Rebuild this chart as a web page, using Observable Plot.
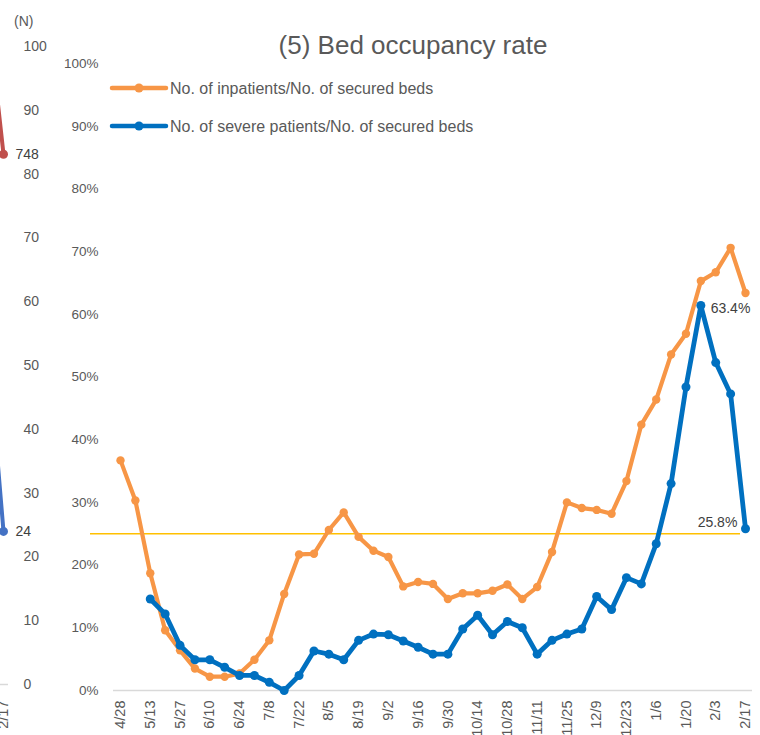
<!DOCTYPE html>
<html>
<head>
<meta charset="utf-8">
<script src="https://cdn.jsdelivr.net/npm/d3@7"></script>
<script src="https://cdn.jsdelivr.net/npm/@observablehq/plot@0.6"></script>
<style>
  body { margin: 0; background: #fff; }
  #wrap { position: relative; width: 760px; height: 735px; overflow: hidden; font-family: "Liberation Sans", Arial, sans-serif; }
  #wrap > * { position: absolute; left: 0; top: 0; }
  #nunit { position: absolute; left: 14px; top: 13px; font-size: 14px; color: #595959; }
</style>
</head>
<body>
<div id="wrap">
  <div id="main"></div>
  <div id="frag"></div>
  <svg id="head" width="760" height="150" style="pointer-events:none">
    <text x="413" y="54" text-anchor="middle" font-size="26" fill="#595959" font-family="Liberation Sans, Arial, sans-serif">(5) Bed occupancy rate</text>
    <g font-family="Liberation Sans, Arial, sans-serif" font-size="16" fill="#595959">
      <line x1="112" x2="166" y1="88" y2="88" stroke="#F79646" stroke-width="4.5" stroke-linecap="round"/>
      <circle cx="139" cy="88" r="4.5" fill="#F79646"/>
      <text x="170" y="93.5">No. of inpatients/No. of secured beds</text>
      <line x1="112" x2="166" y1="126" y2="126" stroke="#0070C0" stroke-width="4.5" stroke-linecap="round"/>
      <circle cx="139" cy="126" r="4.5" fill="#0070C0"/>
      <text x="170" y="131.8">No. of severe patients/No. of secured beds</text>
    </g>
  </svg>
  <div id="nunit">(N)</div>
</div>
<script>
// ---- Data: main chart (5) Bed occupancy rate ----
const dates = ["4/28","5/6","5/13","5/20","5/27","6/3","6/10","6/17","6/24","7/1","7/8","7/15","7/22","7/29","8/5","8/12","8/19","8/26","9/2","9/9","9/16","9/23","9/30","10/7","10/14","10/21","10/28","11/4","11/11","11/18","11/25","12/2","12/9","12/16","12/23","12/30","1/6","1/13","1/20","1/27","2/3","2/10","2/17"];
const tickLabels = ["4/28","5/13","5/27","6/10","6/24","7/8","7/22","8/5","8/19","9/2","9/16","9/30","10/14","10/28","11/11","11/25","12/9","12/23","1/6","1/20","2/3","2/17"];
const inpatientRate = [36.7,30.3,18.7,9.6,6.4,3.5,2.2,2.2,2.7,4.9,8.0,15.4,21.7,21.8,25.6,28.4,24.5,22.3,21.3,16.6,17.3,17.0,14.6,15.5,15.5,15.9,16.9,14.6,16.5,22.1,30.0,29.1,28.8,28.2,33.4,42.4,46.4,53.6,56.9,65.3,66.7,70.6,63.4];
const severeRate = [null,null,14.6,12.2,7.2,4.9,4.9,3.7,2.4,2.4,1.3,0.0,2.4,6.3,5.8,4.9,8.0,9.0,8.9,7.9,6.9,5.8,5.8,9.8,12.0,8.9,11.0,10.0,5.8,8.0,9.0,9.8,15.0,12.9,18.0,17.0,23.4,33.0,48.4,61.4,52.3,47.3,25.8];
const thresholdRate = 25;
const yTicks = [0,10,20,30,40,50,60,70,80,90,100];

// ---- Data: fragment of the neighbouring chart at the left edge ----
const fragTicks = [0,10,20,30,40,50,60,70,80,90,100];
const fragLeftAxisMax = 900;
const fragCases = [940, 748];   // left axis (0-900)
const fragSevere = [52, 24];    // right axis (0-100)
const fragLastLabel = "2/17";

const rows = dates.map((d, i) => ({date: d, inpatient: inpatientRate[i] / 100, severe: severeRate[i] == null ? null : severeRate[i] / 100}));
const severeRows = rows.filter(r => r.severe != null);
const last = rows[rows.length - 1];

const main = Plot.plot({
  width: 760, height: 735,
  marginLeft: 120, marginRight: 15, marginTop: 63, marginBottom: 45,
  style: {fontFamily: "Liberation Sans, Arial, sans-serif", background: "transparent", color: "#595959", overflow: "visible"},
  x: {type: "point", domain: dates, padding: 0, label: null},
  y: {domain: [0, 1], label: null},
  marks: [
    Plot.axisY({ticks: yTicks.map(v => v / 100), tickFormat: d3.format(".0%"), tickSize: 0, tickPadding: 22, fontSize: 13.5, fill: "#595959", label: null}),
    Plot.axisX({ticks: tickLabels, tickRotate: -90, tickSize: 0, tickPadding: 10, fontSize: 14.5, fill: "#595959", label: null}),
    Plot.ruleY([0], {stroke: "#D9D9D9", strokeWidth: 1.5, insetLeft: -7, insetRight: -7}),
    Plot.ruleY([thresholdRate / 100], {stroke: "#FFC000", strokeWidth: 1.6, insetLeft: -30, insetRight: 5}),
    Plot.line(rows, {x: "date", y: "inpatient", stroke: "#F79646", strokeWidth: 4.2, strokeLinejoin: "round"}),
    Plot.dot(rows, {x: "date", y: "inpatient", r: 4.2, fill: "#F79646"}),
    Plot.line(severeRows, {x: "date", y: "severe", stroke: "#0070C0", strokeWidth: 4.8, strokeLinejoin: "round"}),
    Plot.dot(severeRows, {x: "date", y: "severe", r: 4.5, fill: "#0070C0"}),
    Plot.text([last], {x: "date", y: "inpatient", text: d => d3.format(".1%")(d.inpatient), dx: -15, dy: 16, fontSize: 14, fill: "#404040"}),
    Plot.text([last], {x: "date", y: "severe", text: d => d3.format(".1%")(d.severe), dx: -28, dy: -6, fontSize: 14, fill: "#404040"})
  ]
});
document.getElementById("main").appendChild(main);

const fragRows = [
  ...fragCases.map((v, i) => ({s: "cases", x: i - 1, y: v / fragLeftAxisMax * 100, label: i === 1 ? String(v) : null})),
  ...fragSevere.map((v, i) => ({s: "severe", x: i - 1, y: v, label: i === 1 ? String(v) : null}))
];
const frag = Plot.plot({
  width: 60, height: 735,
  marginLeft: 0, marginRight: 37, marginTop: 46, marginBottom: 51,
  style: {fontFamily: "Liberation Sans, Arial, sans-serif", background: "transparent", color: "#595959", overflow: "visible"},
  x: {type: "linear", domain: [-1, 0], range: [-12, 3], label: null},
  y: {domain: [0, 100], label: null},
  color: {type: "ordinal", domain: ["cases", "severe"], range: ["#C0504D", "#4472C4"]},
  marks: [
    Plot.axisY({anchor: "right", ticks: fragTicks, tickSize: 0, tickPadding: 0, fontSize: 14, fill: "#595959", textAnchor: "start", label: null}),
    Plot.axisX({ticks: [0], tickFormat: () => fragLastLabel, tickRotate: -90, tickSize: 0, tickPadding: 16, fontSize: 14.5, fill: "#595959", label: null}),
    Plot.ruleY([0], {stroke: "#D9D9D9", strokeWidth: 1.5, insetRight: 15}),
    Plot.line(fragRows, {x: "x", y: "y", z: "s", stroke: "s", strokeWidth: 4}),
    Plot.dot(fragRows.filter(d => d.label), {x: "x", y: "y", fill: "s", r: 4.5}),
    Plot.text(fragRows.filter(d => d.label), {x: "x", y: "y", text: "label", textAnchor: "start", dx: 12, fontSize: 14, fill: "#404040"})
  ]
});
document.getElementById("frag").appendChild(frag);
</script>
</body>
</html>
